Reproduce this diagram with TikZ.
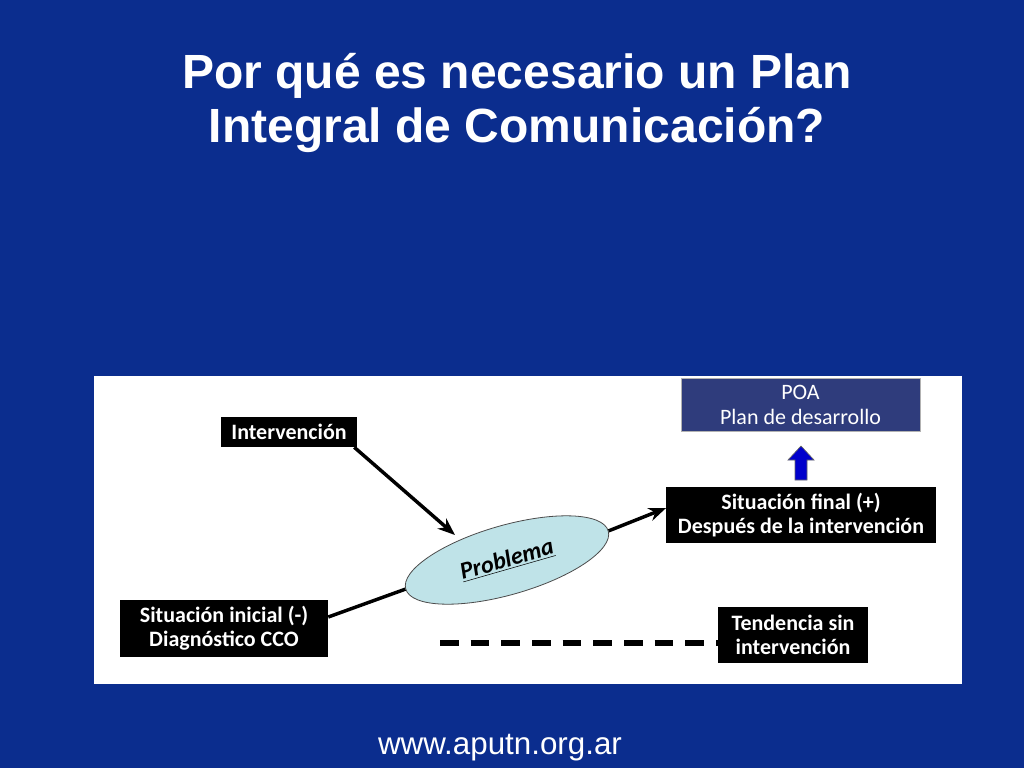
\documentclass[tikz,border=0pt]{standalone}
\usepackage{fontspec}
\setmainfont{Liberation Sans}
\newfontfamily\boxfont{Carlito}
\usetikzlibrary{shapes.geometric,arrows.meta}
\definecolor{bg}{HTML}{0B2D8E}
\definecolor{poa}{HTML}{2F3C7C}
\definecolor{ell}{HTML}{BFE3E8}
\begin{document}
\begin{tikzpicture}[x=0.75pt,y=-0.75pt,
  bbox/.style={fill=black,text=white,font=\boxfont\bfseries\fontsize{16.5}{18}\selectfont,align=center,inner sep=0pt},
  arr/.style={line width=2.6pt,-{Stealth[length=13pt,width=10pt]}}]
\fill[bg] (0,0) rectangle (1024,768);
\fill[white] (94,376) rectangle (962,684);
\node[text=white,font=\bfseries\fontsize{36}{41}\selectfont,align=center] (title) at (517,103) {Por qué es necesario un Plan\\Integral de Comunicación?};
\node[text=white,font=\fontsize{23.5}{26}\selectfont] (url) at (500,748) {www.aputn.org.ar};
\node[bbox,minimum width=102pt,minimum height=22.5pt] (int) at (289,432) {Intervención};
\node[fill=poa,draw=gray!60,text=white,font=\boxfont\fontsize{16.5}{19}\selectfont,align=center,minimum width=179pt,minimum height=40pt] (poa) at (800.5,405) {POA\\Plan de desarrollo};
\node[bbox,minimum width=202pt,minimum height=42pt] (fin) at (801,515) {Situación final (+)\\Después de la intervención};
\node[bbox,minimum width=156pt,minimum height=43pt] (ini) at (224,628.5) {Situación inicial (-)\\Diagnóstico CCO};
\node[bbox,minimum width=112pt,minimum height=42pt] (ten) at (793,635) {Tendencia sin\\intervención};
\node[ellipse,fill=ell,draw=black!70,line width=0.6pt,minimum width=158pt,minimum height=52pt,inner sep=0pt,rotate=16,font=\boxfont\bfseries\itshape\fontsize{18}{20}\selectfont] (prob) at (507,560) {\underline{Problema}};
\draw[line width=2.6pt] (ini.east|-0,617) -- (prob.west);
\draw[arr] (int.south east) ++(-3,0) coordinate (a1) -- (455,535) coordinate (a2);
\draw[arr] (prob.east) -- (fin.west|-0,508);
\draw[line width=4pt,dash pattern=on 14pt off 9pt] (440,643) coordinate (d1) -- (ten.west|-0,643);
\draw[draw=black!60,fill=blue!80!black,line width=0.5pt] (795,480) -- (795,460) -- (788,460) -- (801,446) -- (814,460) -- (807,460) -- (807,480) -- cycle;
\end{tikzpicture}
\end{document}
